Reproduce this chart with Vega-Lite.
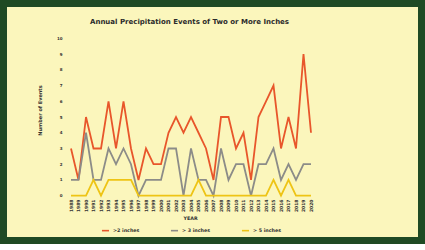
{
  "$schema": "https://vega.github.io/schema/vega-lite/v6.json",
  "width": 425,
  "height": 244,
  "autosize": "none",
  "padding": 0,
  "background": "#FBF6BC",
  "config": {
    "view": {"fill": "#FBF6BC", "stroke": "#1F4A24", "strokeWidth": 14},
    "font": "DejaVu Sans"
  },
  "title": {
    "text": "Annual Precipitation Events of Two or More Inches",
    "fontSize": 7,
    "fontWeight": "bold",
    "color": "#2b2b2b",
    "anchor": "middle",
    "frame": "group",
    "dx": -23,
    "offset": -31,
    "baseline": "alphabetic"
  },
  "data": {
    "values": [
      {"year": 1988, "series": ">2 inches", "events": 3},
      {"year": 1989, "series": ">2 inches", "events": 1},
      {"year": 1990, "series": ">2 inches", "events": 5},
      {"year": 1991, "series": ">2 inches", "events": 3},
      {"year": 1992, "series": ">2 inches", "events": 3},
      {"year": 1993, "series": ">2 inches", "events": 6},
      {"year": 1994, "series": ">2 inches", "events": 3},
      {"year": 1995, "series": ">2 inches", "events": 6},
      {"year": 1996, "series": ">2 inches", "events": 3},
      {"year": 1997, "series": ">2 inches", "events": 1},
      {"year": 1998, "series": ">2 inches", "events": 3},
      {"year": 1999, "series": ">2 inches", "events": 2},
      {"year": 2000, "series": ">2 inches", "events": 2},
      {"year": 2001, "series": ">2 inches", "events": 4},
      {"year": 2002, "series": ">2 inches", "events": 5},
      {"year": 2003, "series": ">2 inches", "events": 4},
      {"year": 2004, "series": ">2 inches", "events": 5},
      {"year": 2005, "series": ">2 inches", "events": 4},
      {"year": 2006, "series": ">2 inches", "events": 3},
      {"year": 2007, "series": ">2 inches", "events": 1},
      {"year": 2008, "series": ">2 inches", "events": 5},
      {"year": 2009, "series": ">2 inches", "events": 5},
      {"year": 2010, "series": ">2 inches", "events": 3},
      {"year": 2011, "series": ">2 inches", "events": 4},
      {"year": 2012, "series": ">2 inches", "events": 1},
      {"year": 2013, "series": ">2 inches", "events": 5},
      {"year": 2014, "series": ">2 inches", "events": 6},
      {"year": 2015, "series": ">2 inches", "events": 7},
      {"year": 2016, "series": ">2 inches", "events": 3},
      {"year": 2017, "series": ">2 inches", "events": 5},
      {"year": 2018, "series": ">2 inches", "events": 3},
      {"year": 2019, "series": ">2 inches", "events": 9},
      {"year": 2020, "series": ">2 inches", "events": 4},
      {"year": 1988, "series": "> 3 inches", "events": 1},
      {"year": 1989, "series": "> 3 inches", "events": 1},
      {"year": 1990, "series": "> 3 inches", "events": 4},
      {"year": 1991, "series": "> 3 inches", "events": 1},
      {"year": 1992, "series": "> 3 inches", "events": 1},
      {"year": 1993, "series": "> 3 inches", "events": 3},
      {"year": 1994, "series": "> 3 inches", "events": 2},
      {"year": 1995, "series": "> 3 inches", "events": 3},
      {"year": 1996, "series": "> 3 inches", "events": 2},
      {"year": 1997, "series": "> 3 inches", "events": 0},
      {"year": 1998, "series": "> 3 inches", "events": 1},
      {"year": 1999, "series": "> 3 inches", "events": 1},
      {"year": 2000, "series": "> 3 inches", "events": 1},
      {"year": 2001, "series": "> 3 inches", "events": 3},
      {"year": 2002, "series": "> 3 inches", "events": 3},
      {"year": 2003, "series": "> 3 inches", "events": 0},
      {"year": 2004, "series": "> 3 inches", "events": 3},
      {"year": 2005, "series": "> 3 inches", "events": 1},
      {"year": 2006, "series": "> 3 inches", "events": 1},
      {"year": 2007, "series": "> 3 inches", "events": 0},
      {"year": 2008, "series": "> 3 inches", "events": 3},
      {"year": 2009, "series": "> 3 inches", "events": 1},
      {"year": 2010, "series": "> 3 inches", "events": 2},
      {"year": 2011, "series": "> 3 inches", "events": 2},
      {"year": 2012, "series": "> 3 inches", "events": 0},
      {"year": 2013, "series": "> 3 inches", "events": 2},
      {"year": 2014, "series": "> 3 inches", "events": 2},
      {"year": 2015, "series": "> 3 inches", "events": 3},
      {"year": 2016, "series": "> 3 inches", "events": 1},
      {"year": 2017, "series": "> 3 inches", "events": 2},
      {"year": 2018, "series": "> 3 inches", "events": 1},
      {"year": 2019, "series": "> 3 inches", "events": 2},
      {"year": 2020, "series": "> 3 inches", "events": 2},
      {"year": 1988, "series": "> 5 inches", "events": 0},
      {"year": 1989, "series": "> 5 inches", "events": 0},
      {"year": 1990, "series": "> 5 inches", "events": 0},
      {"year": 1991, "series": "> 5 inches", "events": 1},
      {"year": 1992, "series": "> 5 inches", "events": 0},
      {"year": 1993, "series": "> 5 inches", "events": 1},
      {"year": 1994, "series": "> 5 inches", "events": 1},
      {"year": 1995, "series": "> 5 inches", "events": 1},
      {"year": 1996, "series": "> 5 inches", "events": 1},
      {"year": 1997, "series": "> 5 inches", "events": 0},
      {"year": 1998, "series": "> 5 inches", "events": 0},
      {"year": 1999, "series": "> 5 inches", "events": 0},
      {"year": 2000, "series": "> 5 inches", "events": 0},
      {"year": 2001, "series": "> 5 inches", "events": 0},
      {"year": 2002, "series": "> 5 inches", "events": 0},
      {"year": 2003, "series": "> 5 inches", "events": 0},
      {"year": 2004, "series": "> 5 inches", "events": 0},
      {"year": 2005, "series": "> 5 inches", "events": 1},
      {"year": 2006, "series": "> 5 inches", "events": 0},
      {"year": 2007, "series": "> 5 inches", "events": 0},
      {"year": 2008, "series": "> 5 inches", "events": 0},
      {"year": 2009, "series": "> 5 inches", "events": 0},
      {"year": 2010, "series": "> 5 inches", "events": 0},
      {"year": 2011, "series": "> 5 inches", "events": 0},
      {"year": 2012, "series": "> 5 inches", "events": 0},
      {"year": 2013, "series": "> 5 inches", "events": 0},
      {"year": 2014, "series": "> 5 inches", "events": 0},
      {"year": 2015, "series": "> 5 inches", "events": 1},
      {"year": 2016, "series": "> 5 inches", "events": 0},
      {"year": 2017, "series": "> 5 inches", "events": 1},
      {"year": 2018, "series": "> 5 inches", "events": 0},
      {"year": 2019, "series": "> 5 inches", "events": 0},
      {"year": 2020, "series": "> 5 inches", "events": 0}
    ]
  },
  "mark": {"type": "line", "strokeWidth": 1.8},
  "encoding": {
    "x": {
      "field": "year",
      "type": "quantitative",
      "scale": {"domain": [1978.533, 2035.2], "nice": false, "zero": false},
      "axis": {
        "values": [1988, 1989, 1990, 1991, 1992, 1993, 1994, 1995, 1996, 1997, 1998, 1999, 2000, 2001, 2002, 2003, 2004, 2005, 2006, 2007, 2008, 2009, 2010, 2011, 2012, 2013, 2014, 2015, 2016, 2017, 2018, 2019, 2020],
        "format": "d",
        "offset": -48,
        "labelAngle": -90,
        "labelPadding": 3,
        "labelFontSize": 4.5,
        "labelFontWeight": "bold",
        "labelColor": "#333333",
        "labelOverlap": false,
        "labelFlush": false,
        "domain": false,
        "ticks": false,
        "grid": false,
        "title": "YEAR",
        "titleFontSize": 4.8,
        "titleFontWeight": "bold",
        "titleColor": "#333333",
        "titleX": 190,
        "titleY": 22,
        "titleBaseline": "middle"
      }
    },
    "y": {
      "field": "events",
      "type": "quantitative",
      "scale": {"domain": [-3.07, 12.435], "nice": false, "zero": false},
      "axis": {
        "values": [0, 1, 2, 3, 4, 5, 6, 7, 8, 9, 10],
        "offset": -66,
        "labelPadding": 4,
        "labelFontSize": 4,
        "labelFontWeight": "bold",
        "labelColor": "#333333",
        "labelFlush": false,
        "domain": false,
        "ticks": false,
        "grid": false,
        "title": "Number of Events",
        "titleFontSize": 5,
        "titleFontWeight": "bold",
        "titleColor": "#333333",
        "titleAngle": -90,
        "titleX": -27,
        "titleY": 110,
        "titleAlign": "center",
        "titleBaseline": "middle"
      }
    },
    "color": {
      "field": "series",
      "type": "nominal",
      "scale": {
        "domain": [">2 inches", "> 3 inches", "> 5 inches"],
        "range": ["#E8562B", "#8C8C88", "#EEC415"]
      },
      "legend": {
        "orient": "none",
        "legendX": 101,
        "legendY": 226,
        "direction": "horizontal",
        "title": null,
        "symbolType": "stroke",
        "symbolSize": 50,
        "symbolStrokeWidth": 1.6,
        "labelFontSize": 4.8,
        "labelFontWeight": "bold",
        "labelColor": "#333333",
        "labelOffset": 3,
        "columnPadding": 27
      }
    }
  }
}
